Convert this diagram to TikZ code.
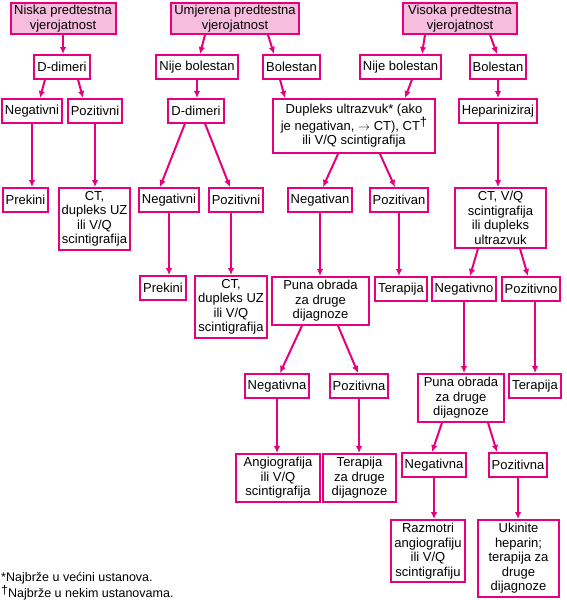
\documentclass[tikz,border=0pt]{standalone}
\usepackage{fontspec}
\setmainfont{Liberation Sans}
\usetikzlibrary{arrows.meta}
\definecolor{flowline}{RGB}{230,0,126}
\definecolor{flowfill}{RGB}{246,190,220}
\newcommand{\dg}{\raisebox{3.5pt}{\dag}}
\tikzset{
  box/.style={draw=flowline, line width=2pt, fill=white, align=center, anchor=north,
    inner xsep=3.1pt, inner ysep=3.3pt, minimum height=23.5pt,
    font=\fontsize{13}{14.5}\selectfont},
  startbox/.style={box, fill=flowfill, inner ysep=2.1pt},
  arr/.style={->, draw=flowline, line width=2pt},
}

\begin{document}
\begin{tikzpicture}[x=1pt, y=-1pt, >={Latex[length=7pt,width=6.5pt]}]
    \useasboundingbox (0,0) rectangle (567,600);
    % predtestna vjerojatnost
    \node[startbox, minimum width=105pt] (niska) at (63,2) {Niska predtestna\\vjerojatnost};
    \node[startbox, minimum width=128pt] (umj) at (235,2) {Umjerena predtestna\\vjerojatnost};
    \node[startbox, minimum width=114pt] (vis) at (460,2) {Visoka predtestna\\vjerojatnost};
    % drugi red
    \node[box] (dd1) at (62,54) {D-dimeri};
    \node[box] (nb1) at (197,54) {Nije bolestan};
    \node[box] (b1) at (291.5,54) {Bolestan};
    \node[box] (nb2) at (400.5,54) {Nije bolestan};
    \node[box] (b2) at (498,54) {Bolestan};
    % treci red
    \node[box] (neg1) at (32,98) {Negativni};
    \node[box] (poz1) at (95,98) {Pozitivni};
    \node[box] (dd2) at (196,98) {D-dimeri};
    \node[box, minimum width=162pt, minimum height=54pt] (dup) at (354,98)
        {Dupleks ultrazvuk* (ako\\je negativan, $\rightarrow$ CT), CT\dg\\ili V/Q scintigrafija};
    \node[box] (hep) at (498,98) {Hepariniziraj};
    % cetvrti red
    \node[box] (pre1) at (25.5,187) {Prekini};
    \node[box] (ct1) at (94.5,187) {CT,\\dupleks UZ\\ili V/Q\\scintigrafija};
    \node[box] (neg2) at (169,187) {Negativni};
    \node[box] (poz2) at (236,187) {Pozitivni};
    \node[box] (negv) at (320,187) {Negativan};
    \node[box] (pozv) at (399,187) {Pozitivan};
    \node[box, minimum width=91pt] (ctvq) at (500.5,187) {CT, V/Q\\scintigrafija\\ili dupleks\\ultrazvuk};
    % peti red
    \node[box] (pre2) at (163,275) {Prekini};
    \node[box] (ct2) at (231,275) {CT,\\dupleks UZ\\ili V/Q\\scintigrafija};
    \node[box, minimum width=97pt] (puna1) at (320.5,276) {Puna obrada\\za druge\\dijagnoze};
    \node[box] (ter1) at (401,276) {Terapija};
    \node[box] (nego) at (464,276) {Negativno};
    \node[box] (pozo) at (531,276) {Pozitivno};
    % sesti red
    \node[box] (negna1) at (277,373) {Negativna};
    \node[box] (pozna1) at (359,373) {Pozitivna};
    \node[box, minimum width=86pt] (puna2) at (461,373) {Puna obrada\\za druge\\dijagnoze};
    \node[box] (ter2) at (535,373) {Terapija};
    % sedmi red
    \node[box, minimum width=84pt] (ang) at (278,453) {Angiografija\\ili V/Q\\scintigrafija};
    \node[box, minimum width=73pt] (terd) at (359.5,453) {Terapija\\za druge\\dijagnoze};
    \node[box] (negna2) at (434,452) {Negativna};
    \node[box] (pozna2) at (518,452) {Pozitivna};
    % osmi red
    \node[box] (raz) at (428,519) {Razmotri\\angiografiju\\ili V/Q\\scintigrafiju};
    \node[box, minimum width=81pt] (uki) at (518.5,519) {Ukinite\\heparin;\\terapija za\\druge\\dijagnoze};
    % fusnote
    \node[anchor=north west, align=left, inner sep=0pt, font=\fontsize{12.5}{13}\selectfont] (fn) at (1,572)
        {*Najbrže u većini ustanova.\\\dg Najbrže u nekim ustanovama.};
    % okomite strelice
    \foreach \a/\b in {niska/dd1, nb1/dd2, b2/hep, neg1/pre1, poz1/ct1, hep/ctvq, neg2/pre2,
        negv/puna1, pozv/ter1, nego/puna2, negna1/ang, pozna1/terd, negna2/raz, pozna2/uki} {
        \draw[arr] (\a.south) -- (\a.south |- \b.north);
    }
    \foreach \a/\b in {poz2/ct2, pozo/ter2} {
        \draw[arr] (\b.north |- \a.south) -- (\b.north);
    }
    % kose strelice
    \draw[arr] ([xshift=-17pt]dd1.south) -- ([xshift=8pt]neg1.north);
    \draw[arr] ([xshift=16pt]dd1.south) -- ([xshift=-12pt]poz1.north);
    \draw[arr] ([xshift=-30pt]umj.south) -- ([xshift=3pt]nb1.north);
    \draw[arr] ([xshift=33pt]umj.south) -- ([xshift=-17.5pt]b1.north);
    \draw[arr] ([xshift=-35pt]vis.south) -- ([xshift=21.5pt]nb2.north);
    \draw[arr] ([xshift=30pt]vis.south) -- ([xshift=-1pt]b2.north);
    \draw[arr] ([xshift=-11.5pt]b1.south) -- ([xshift=-69pt]dup.north);
    \draw[arr] ([xshift=11.5pt]nb2.south) -- ([xshift=51pt]dup.north);
    \draw[arr] ([xshift=-11pt]dd2.south) -- ([xshift=-9pt]neg2.north);
    \draw[arr] ([xshift=9pt]dd2.south) -- ([xshift=-6pt]poz2.north);
    \draw[arr] ([xshift=-16pt]dup.south) -- ([xshift=3pt]negv.north);
    \draw[arr] ([xshift=26pt]dup.south) -- ([xshift=-4pt]pozv.north);
    \draw[arr] ([xshift=-22.5pt]ctvq.south) -- ([xshift=6pt]nego.north);
    \draw[arr] ([xshift=19.5pt]ctvq.south) -- ([xshift=-3pt]pozo.north);
    \draw[arr] ([xshift=-18.5pt]puna1.south) -- ([xshift=3pt]negna1.north);
    \draw[arr] ([xshift=17.5pt]puna1.south) -- ([xshift=-1pt]pozna1.north);
    \draw[arr] ([xshift=-19pt]puna2.south) -- ([xshift=-2pt]negna2.north);
    \draw[arr] ([xshift=27pt]puna2.south) -- ([xshift=-21pt]pozna2.north);
\end{tikzpicture}
\end{document}
